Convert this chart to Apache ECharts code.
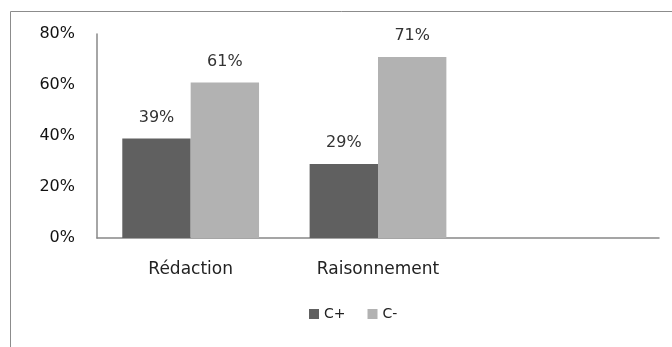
<!DOCTYPE html>
<html>
<head>
<meta charset="utf-8">
<script src="https://cdn.jsdelivr.net/npm/echarts@6/dist/echarts.min.js"></script>
<style>
  html, body { margin: 0; padding: 0; background: #fff; }
  #chart { width: 672px; height: 347px; }
</style>
</head>
<body>
<div id="chart"></div>
<script>
// categories (third slot is empty in the original)
var categories = ['Rédaction', 'Raisonnement', ''];
var cPlus = [39, 29, '-'];
var cMinus = [61, 71, '-'];
var yTicks = [0, 20, 40, 60, 80];

var font = 'DejaVu Sans';
var chartDom = document.getElementById('chart');
var myChart = echarts.init(chartDom);

var option = {
    animation: false,
    textStyle: { fontFamily: font },
    graphic: [{
        type: 'rect',
        shape: { x: 10.5, y: 11.5, width: 800, height: 500 },
        style: { fill: 'none', stroke: '#8c8c8c', lineWidth: 1 },
        silent: true
    }],
    legend: {
        data: ['C+', 'C-'],
        bottom: 21,
        left: 304,
        itemWidth: 10,
        itemHeight: 10,
        itemGap: 22,
        icon: 'rect',
        textStyle: { fontFamily: font, fontSize: 14, color: '#222' }
    },
    grid: {
        left: 97,
        right: 13,
        top: 34,
        bottom: 109
    },
    xAxis: {
        type: 'category',
        data: categories,
        axisLine: { lineStyle: { color: '#888', width: 1.5 } },
        axisTick: { show: false },
        axisLabel: { fontFamily: font, fontSize: 17, color: '#222', margin: 23 }
    },
    yAxis: {
        type: 'value',
        min: yTicks[0],
        max: yTicks[yTicks.length - 1],
        interval: 20,
        splitLine: { show: false },
        axisLine: { show: true, lineStyle: { color: '#888', width: 1.5 } },
        axisTick: { show: false },
        axisLabel: {
            fontFamily: font, fontSize: 16, color: '#111', margin: 22,
            formatter: '{value}%'
        }
    },
    series: [
        {
            name: 'C+',
            type: 'bar',
            data: cPlus,
            barGap: '0%',
            barCategoryGap: '27%',
            itemStyle: { color: '#606060' },
            label: {
                show: true, position: 'top', distance: 13,
                formatter: '{c}%', fontFamily: font, fontSize: 16, color: '#333'
            }
        },
        {
            name: 'C-',
            type: 'bar',
            data: cMinus,
            itemStyle: { color: '#b2b2b2' },
            label: {
                show: true, position: 'top', distance: 13,
                formatter: '{c}%', fontFamily: font, fontSize: 16, color: '#333'
            }
        }
    ]
};

option && myChart.setOption(option);
</script>
</body>
</html>
